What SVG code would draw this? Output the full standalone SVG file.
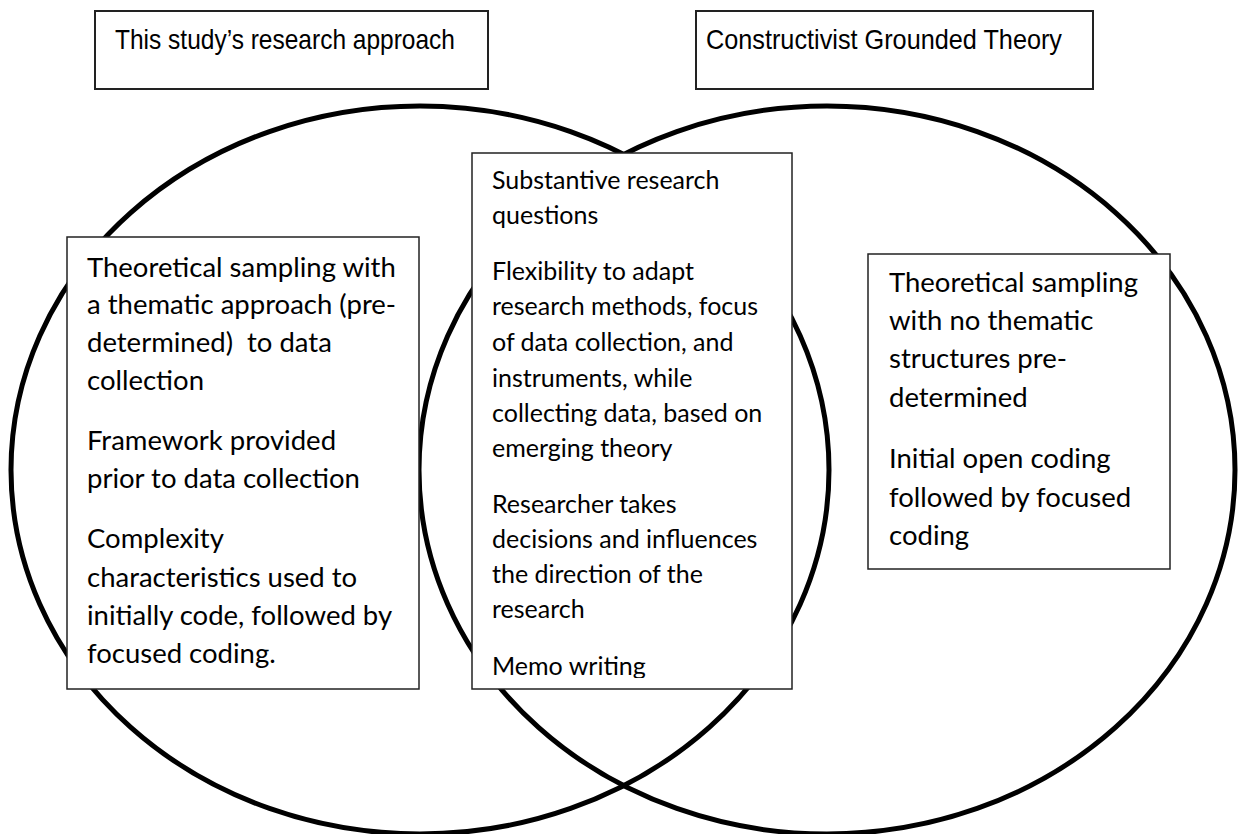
<svg xmlns="http://www.w3.org/2000/svg" width="1239" height="834" viewBox="0 0 1239 834">
<style>
.ring{fill:none;stroke:#000;stroke-width:5}
.box{fill:#fff;stroke:#222;stroke-width:1.5}
.tbox{fill:#fff;stroke:#222;stroke-width:2}
.title{font-family:"Liberation Sans",Arial,sans-serif;font-size:28.5px;fill:#000}
.big{font-family:Lato,"Open Sans",sans-serif;font-size:27.5px;fill:#000;white-space:pre}
.mid{font-family:Lato,"Open Sans",sans-serif;font-size:25px;fill:#000}
</style>
<defs>
<clipPath id="midclip"><rect x="472" y="153" width="320" height="525"/></clipPath>
</defs>
<rect width="1239" height="834" fill="#fff"/>
<g id="circles">
<ellipse id="circle-left" class="ring" cx="420" cy="470" rx="409" ry="364"/>
<ellipse id="circle-right" class="ring" cx="827" cy="470" rx="408" ry="364"/>
</g>
<g id="title-left">
<rect class="tbox" x="95" y="11" width="393" height="78"/>
<text class="title" x="115" y="49" textLength="340" lengthAdjust="spacingAndGlyphs">This study’s research approach</text>
</g>
<g id="title-right">
<rect class="tbox" x="696" y="11" width="397" height="78"/>
<text class="title" x="706" y="49" textLength="356" lengthAdjust="spacingAndGlyphs">Constructivist Grounded Theory</text>
</g>
<g id="box-left">
<rect class="box" x="67" y="237" width="352" height="452"/>
<text class="big" x="87" y="277">Theoretical sampling with</text>
<text class="big" x="87" y="314">a thematic approach (pre-</text>
<text class="big" x="87" y="352">determined)  to data</text>
<text class="big" x="87" y="390">collection</text>
<text class="big" x="87" y="450">Framework provided</text>
<text class="big" x="87" y="488">prior to data collection</text>
<text class="big" x="87" y="548">Complexity</text>
<text class="big" x="87" y="587">characteristics used to</text>
<text class="big" x="87" y="625">initially code, followed by</text>
<text class="big" x="87" y="663">focused coding.</text>
</g>
<g id="box-middle">
<rect class="box" x="472" y="153" width="320" height="536"/>
<g clip-path="url(#midclip)">
<text class="mid" x="492" y="189">Substantive research</text>
<text class="mid" x="492" y="224">questions</text>
<text class="mid" x="492" y="280">Flexibility to adapt</text>
<text class="mid" x="492" y="315">research methods, focus</text>
<text class="mid" x="492" y="351">of data collection, and</text>
<text class="mid" x="492" y="387">instruments, while</text>
<text class="mid" x="492" y="422">collecting data, based on</text>
<text class="mid" x="492" y="457">emerging theory</text>
<text class="mid" x="492" y="513">Researcher takes</text>
<text class="mid" x="492" y="548">decisions and influences</text>
<text class="mid" x="492" y="583">the direction of the</text>
<text class="mid" x="492" y="618">research</text>
<text class="mid" x="492" y="675">Memo writing</text>
</g>
</g>
<g id="box-right">
<rect class="box" x="868" y="254" width="302" height="315"/>
<text class="big" x="889" y="292">Theoretical sampling</text>
<text class="big" x="889" y="330">with no thematic</text>
<text class="big" x="889" y="368">structures pre-</text>
<text class="big" x="889" y="407">determined</text>
<text class="big" x="889" y="468">Initial open coding</text>
<text class="big" x="889" y="507">followed by focused</text>
<text class="big" x="889" y="545">coding</text>
</g>
</svg>
